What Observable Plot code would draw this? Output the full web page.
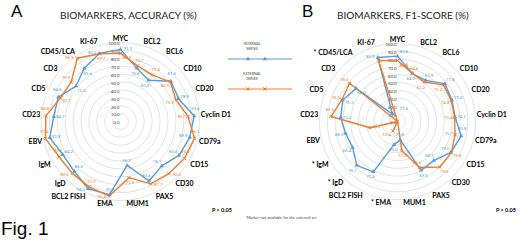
<!DOCTYPE html>
<html><head><meta charset="utf-8">
<script src="https://cdn.jsdelivr.net/npm/d3@7"></script>
<script src="https://cdn.jsdelivr.net/npm/@observablehq/plot@0.6"></script>
<style>
body{margin:0;background:#fff;}
#wrap{position:relative;width:520px;height:249px;overflow:hidden;font-family:Lato,"Open Sans",sans-serif;}
.abs{position:absolute;white-space:nowrap;line-height:1;}
.plotbox{position:absolute;top:0;}
</style></head><body><div id="wrap"></div>
<script>
// ---------- data ----------
const markers = ["MYC","BCL2","BCL6","CD10","CD20","Cyclin D1","CD79a","CD15","CD30","PAX5","MUM1","EMA","BCL2 FISH","IgD","IgM","EBV","CD23","CD5","CD3","CD45/LCA","KI-67"];
const unavailableExternal = ["CD45/LCA","IgM","IgD","EMA"];
const accuracyInternal = [91.3,70.6,63.2,81.6,78.9,93.6,89.9,85.6,76.7,83.6,56.2,93.7,94.5,86.0,84.2,91.9,84.7,84.6,72.0,81.6,90.2];
const accuracyExternal = [86.2,73.7,71.4,80.5,75.3,85.7,96.1,93.5,90.0,87.7,71.9,95.4,91.9,89.6,89.6,97.4,94.8,81.7,79.9,96.9,89.7];
const f1Internal = [83.8,64.3,63.9,77.8,75.0,74.1,83.8,79.0,68.3,69.5,23.8,30.0,71.6,76.7,66.4,68.3,73.0,75.3,68.0,11.5,85.9];
const f1External = [78.1,64.6,61.2,75.2,74.0,73.4,75.7,79.8,79.6,65.5,37.8,null,13.4,null,null,36.2,85.5,76.5,78.5,null,81.8];
const gridTicks = [0,10,20,30,40,50,60,70,80,90,100];
const seriesNames = ["INTERNAL SERIES","EXTERNAL SERIES"];

const BLUE = "#5B9BD5", ORANGE = "#ED7D31";
const FONT = "Lato, 'Open Sans', sans-serif";
const AXIS_FS = 7, VAL_FS = 4.3;
const ctx = document.createElement("canvas").getContext("2d");
const measure = (t, font) => { ctx.font = font; return ctx.measureText(t).width; };
const clamp = v => Math.max(-1, Math.min(1, v));

function radar({internal, external, starred, width, height, cx, cy, R}) {
  const n = markers.length;
  const k = 0.3;              // degrees of arc per percentage point
  const ppu = R / 100;        // pixels per percentage point (for label offsets)
  const lon = i => 180 - i * 360 / n;
  const lat = v => 90 - v * k;
  const theta = i => i * 2 * Math.PI / n;
  const toGeo = (x, y) => [180 - Math.atan2(x, -y) * 180 / Math.PI, 90 - Math.hypot(x, y) / ppu * k];
  const rows = [];
  markers.forEach((m, i) => {
    const a = internal[i], b = external[i];
    const aOut = b == null || a >= b;
    rows.push({series: "internal", i, value: a, label: a, out: aOut});
    rows.push({series: "external", i, value: b == null ? 0 : b, label: b, out: !aOut});
  });
  const intRows = rows.filter(d => d.series === "internal");
  const extRows = rows.filter(d => d.series === "external");

  // value-label placement (pixel offsets from the point, converted back to lon/lat)
  const valuePos = d => {
    const t = theta(d.i), s = Math.sin(t), c = Math.cos(t);
    const w = measure(d.label.toFixed(1), `${VAL_FS}px Lato`), h = 4.5;
    const ext = w / 2 * Math.abs(s) + h / 2 * Math.abs(c);
    const pr = d.value * ppu;
    let x, y;
    if (d.out) {
      let rc = pr + 2 + ext;
      if (rc + ext > 0.95 * R) {
        rc = pr + 1; x = rc * s; y = -rc * c;
        if (Math.abs(s) > 0.7) y -= h / 2 + 5; else x += (s < -0.05 ? -1 : 1) * (w / 2 + 3);
      } else { x = rc * s; y = -rc * c; }
    } else {
      const rc = pr - 2 - ext;
      if (rc < 7) { x = pr * s - (w / 2 + 2); y = -pr * c + 4; }
      else { x = rc * s; y = -rc * c; }
    }
    if (x - w / 2 < 0.5 && x + w / 2 > -15 && y < 4 && y > -R - 4) x = w / 2 + 2;
    return toGeo(x, y);
  };
  const labelMark = (data, color) => Plot.text(data.filter(d => d.label != null), {
    x: d => valuePos(d)[0], y: d => valuePos(d)[1], text: d => d.label.toFixed(1), fill: color, fontSize: VAL_FS, fontFamily: FONT
  });

  // axis (category) labels: the box corner nearest the centre sits on the 100 ring
  const axisText = m => (starred && unavailableExternal.includes(m) ? "* " : "") + m;
  const axisPos = (m, i) => {
    const t = theta(i), s = Math.sin(t), c = Math.cos(t);
    const w = measure(axisText(m), `bold ${AXIS_FS}px Lato`), h = 6.5;
    const rr = R + 1;
    const x = rr * s + clamp(3 * s) * (w / 2 + 0.5);
    const y = -rr * c - clamp(3 * c) * (h / 2);
    return toGeo(x, y);
  };

  return Plot.plot({
    width, height,
    marginLeft: cx - R, marginTop: cy - R,
    marginRight: width - cx - R, marginBottom: height - cy - R,
    style: {background: "transparent", fontFamily: FONT, overflow: "visible"},
    projection: {type: "azimuthal-equidistant", rotate: [0, -90], domain: d3.geoCircle().center([0, 90]).radius(100 * k)(), clip: false},
    marks: [
      Plot.geo(gridTicks.filter(t => t > 0), {geometry: t => d3.geoCircle().center([0, 90]).radius(t * k)(), stroke: "#d6d6d6", fill: "none", strokeWidth: 0.7}),
      Plot.text(gridTicks, {x: 180, y: t => lat(t), text: t => t.toFixed(1), textAnchor: "end", dx: -1, dy: 1.5, fontSize: VAL_FS, fill: "#404040", fontFamily: FONT}),
      Plot.line(intRows, {x: d => lon(d.i), y: d => lat(d.value), curve: "linear-closed", stroke: BLUE, strokeWidth: 1.4}),
      Plot.line(extRows, {x: d => lon(d.i), y: d => lat(d.value), curve: "linear-closed", stroke: ORANGE, strokeWidth: 1.4}),
      Plot.dot(intRows, {x: d => lon(d.i), y: d => lat(d.value), symbol: "triangle", r: 1.6, fill: BLUE}),
      Plot.dot(extRows, {x: d => lon(d.i), y: d => lat(d.value), symbol: "times", r: 1.6, stroke: ORANGE, strokeWidth: 1}),
      labelMark(intRows, BLUE),
      labelMark(extRows, ORANGE),
      Plot.text(markers, {x: (m, i) => axisPos(m, i)[0], y: (m, i) => axisPos(m, i)[1], text: axisText, fontSize: AXIS_FS, fontWeight: "bold", fill: "#000", fontFamily: FONT})
    ]
  });
}

const wrap = document.getElementById("wrap");
function place(el, left) { const d = document.createElement("div"); d.className = "plotbox"; d.style.left = left + "px"; d.appendChild(el); wrap.appendChild(d); }
place(radar({internal: accuracyInternal, external: accuracyExternal, starred: false, width: 250, height: 249, cx: 120, cy: 121, R: 79}), 0);
place(radar({internal: f1Internal, external: f1External, starred: true, width: 260, height: 249, cx: 137, cy: 121, R: 78}), 260);

function txt(s, css) { const d = document.createElement("div"); d.className = "abs"; d.textContent = s; Object.assign(d.style, css); wrap.appendChild(d); return d; }
txt("A", {left: "11px", top: "3px", fontFamily: "'Liberation Sans', Arial, sans-serif", fontSize: "17px", color: "#000"});
txt("B", {left: "302px", top: "3px", fontFamily: "'Liberation Sans', Arial, sans-serif", fontSize: "17px", color: "#000"});
txt("BIOMARKERS, ACCURACY (%)", {left: "60px", top: "10px", fontSize: "10px", color: "#222"});
txt("BIOMARKERS, F1-SCORE (%)", {left: "337px", top: "10px", fontSize: "10px", color: "#222"});
txt("P > 0.05", {left: "212px", top: "208px", fontSize: "5.5px", fontWeight: "bold", color: "#000"});
txt("P > 0.05", {left: "496px", top: "208px", fontSize: "5.5px", fontWeight: "bold", color: "#000"});
txt("*Marker not available for the external set", {left: "245px", top: "216px", fontSize: "4px", color: "#444"});
txt("Fig. 1", {left: "1px", top: "219px", fontFamily: "'Liberation Sans', Arial, sans-serif", fontSize: "19px", color: "#000"});

// legend
const lg = [[seriesNames[0], BLUE, 42, "tri"], [seriesNames[1], ORANGE, 72, "x"]];
lg.forEach(([name, col, top, sym]) => {
  const [a, b] = name.split(" ");
  txt(a, {left: "252px", top: top + "px", fontSize: "3.6px", color: "#444", transform: "translateX(-50%)"});
  txt(b, {left: "252px", top: (top + 5) + "px", fontSize: "3.6px", color: "#444", transform: "translateX(-50%)"});
  const svg = d3.select(wrap).append("svg").attr("width", 70).attr("height", 10).style("position", "absolute").style("left", "225px").style("top", (top + 12) + "px");
  svg.append("line").attr("x1", 3).attr("x2", 67).attr("y1", 5).attr("y2", 5).attr("stroke", col).attr("stroke-width", 1);
  [23, 40].forEach(x => {
    if (sym === "tri") svg.append("path").attr("d", d3.symbol(d3.symbolTriangle, 8)()).attr("transform", `translate(${x},5)`).attr("fill", col);
    else svg.append("path").attr("d", d3.symbol(d3.symbolTimes, 8)()).attr("transform", `translate(${x},5)`).attr("stroke", col).attr("fill", "none");
  });
});
</script></body></html>
